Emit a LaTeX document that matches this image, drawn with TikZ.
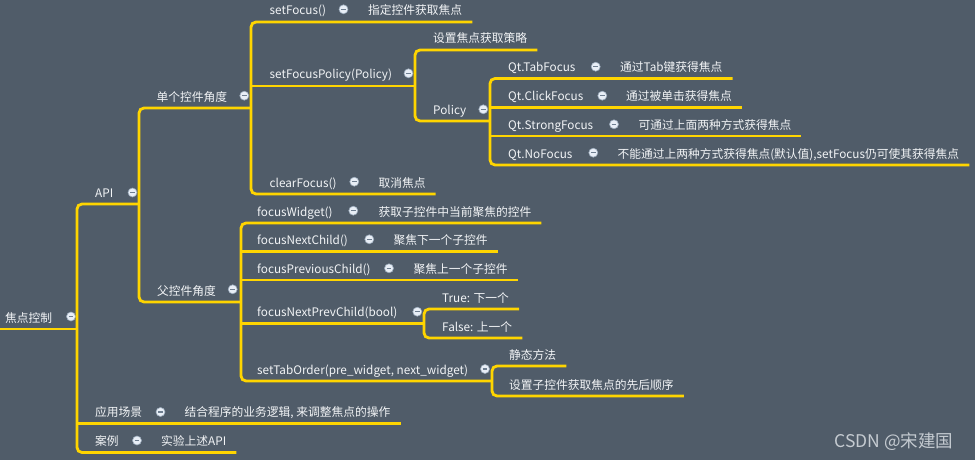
\documentclass[tikz,border=0pt]{standalone}
\usepackage{fontspec}
\setmainfont{Noto Sans CJK SC}
\usepackage{xcolor}
\usetikzlibrary{calc}
\definecolor{slate}{HTML}{505C69}
\definecolor{gold}{HTML}{FFD500}
\definecolor{ink}{HTML}{F2F4F6}
\definecolor{foldfill}{HTML}{E8EEF6}
\definecolor{foldring}{HTML}{9AAABB}
\definecolor{folddash}{HTML}{6E7E90}
\definecolor{credit}{HTML}{C5CBD1}
\tikzset{
  line join=round,
  branch/.style={draw=gold, line width=2.8pt, rounded corners=5pt},
  topic/.style={text=ink, inner sep=0pt, anchor=base west, font=\fontsize{11.75}{13}\selectfont},
  fold/.style={circle, fill=foldfill, draw=foldring, line width=0.6pt, minimum size=9pt, inner sep=0pt,
    path picture={\draw[folddash, line width=1.3pt]
      ([xshift=-2.3pt]path picture bounding box.center) -- ([xshift=2.3pt]path picture bounding box.center);}},
  uline/.style={xshift=10pt, yshift=-7pt}
}

\begin{document}
\begin{tikzpicture}[x=1pt, y=-1pt]
  \fill[slate] (0,0) rectangle (975,460);
  \useasboundingbox (0,0) rectangle (975,460);

  % root
  \node[topic] (root) at (5,322) {焦点控制};
  \node[fold] (root-f) at (71,316.5) {};
  \coordinate (root-s) at (0,329);
  \coordinate (root-j) at (77,329);

  % first level
  \node[topic] (api) at (95,197) {API};
  \node[fold] (api-f) at (132.5,192.5) {};
  \coordinate (api-j) at (139,204);

  \node[topic] (scene) at (95,416.5) {应用场景};
  \node[fold] (scene-f) at (160.5,412) {};
  \node[topic] (scene-d) at (184.5,416.5) {结合程序的业务逻辑, 来调整焦点的操作};
  \coordinate (scene-e) at ([uline]scene-d.base east);

  \node[topic] (case) at (95,445.5) {案例};
  \node[fold] (case-f) at (137,440.5) {};
  \node[topic] (case-d) at (161,445.5) {实验上述API};
  \coordinate (case-e) at ([uline]case-d.base east);

  % API
  \node[topic] (single) at (156.5,101) {单个控件角度};
  \node[fold] (single-f) at (244.3,95.7) {};
  \coordinate (single-j) at (251,108);

  \node[topic] (parent) at (157,295) {父控件角度};
  \node[fold] (parent-f) at (232.7,289.3) {};
  \coordinate (parent-j) at (241,302);

  % single widget
  \node[topic] (setfocus) at (269.5,15) {setFocus()};
  \node[fold] (setfocus-f) at (343.5,9.3) {};
  \node[topic] (setfocus-d) at (368,15) {指定控件获取焦点};
  \coordinate (setfocus-e) at ([uline]setfocus-d.base east);

  \node[topic] (sfp) at (269.5,79) {setFocusPolicy(Policy)};
  \node[fold] (sfp-f) at (408.5,73.3) {};
  \coordinate (sfp-j) at (415,86);

  \node[topic] (strat) at (433,43) {设置焦点获取策略};
  \coordinate (strat-e) at ([uline]strat.base east);

  \node[topic] (policy) at (433,114) {Policy};
  \node[fold] (policy-f) at (483.3,109.3) {};
  \coordinate (policy-j) at (490,121);

  \node[topic] (tab) at (508,71.5) {Qt.TabFocus};
  \node[fold] (tab-f) at (595.7,66.7) {};
  \node[topic] (tab-d) at (620,71.5) {通过Tab键获得焦点};
  \coordinate (tab-e) at ([uline]tab-d.base east);

  \node[topic] (click) at (508,100.5) {Qt.ClickFocus};
  \node[fold] (click-f) at (602.3,95.7) {};
  \node[topic] (click-d) at (626,100.5) {通过被单击获得焦点};
  \coordinate (click-e) at ([uline]click-d.base east);

  \node[topic] (strong) at (508,129) {Qt.StrongFocus};
  \node[fold] (strong-f) at (614,124.3) {};
  \node[topic] (strong-d) at (638.3,129) {可通过上面两种方式获得焦点};
  \coordinate (strong-e) at ([uline]strong-d.base east);

  \node[topic] (nofocus) at (508,158) {Qt.NoFocus};
  \node[fold] (nofocus-f) at (593.3,152.7) {};
  \node[topic] (nofocus-d) at (617.3,158) {不能通过上两种方式获得焦点(默认值),setFocus仍可使其获得焦点};
  \coordinate (nofocus-e) at ([uline]nofocus-d.base east);

  \node[topic] (clear) at (269.5,187) {clearFocus()};
  \node[fold] (clear-f) at (354.3,181.7) {};
  \node[topic] (clear-d) at (378.3,187) {取消焦点};
  \coordinate (clear-e) at ([uline]clear-d.base east);

  % parent widget
  \node[topic] (fw) at (257,216) {focusWidget()};
  \node[fold] (fw-f) at (353.3,210.7) {};
  \node[topic] (fw-d) at (378.3,216) {获取子控件中当前聚焦的控件};
  \coordinate (fw-e) at ([uline]fw-d.base east);

  \node[topic] (fnc) at (257,244.5) {focusNextChild()};
  \node[fold] (fnc-f) at (369.3,239.3) {};
  \node[topic] (fnc-d) at (393.3,244.5) {聚焦下一个子控件};
  \coordinate (fnc-e) at ([uline]fnc-d.base east);

  \node[topic] (fpc) at (257,273) {focusPreviousChild()};
  \node[fold] (fpc-f) at (389,268.3) {};
  \node[topic] (fpc-d) at (413.3,273) {聚焦上一个子控件};
  \coordinate (fpc-e) at ([uline]fpc-d.base east);

  \node[topic] (fnp) at (257,316.5) {focusNextPrevChild(bool)};
  \node[fold] (fnp-f) at (417.3,311.7) {};
  \coordinate (fnp-j) at (424,323.5);

  \node[topic] (true) at (442,302) {True: 下一个};
  \coordinate (true-e) at ([uline]true.base east);
  \node[topic] (false) at (442,331) {False: 上一个};
  \coordinate (false-e) at ([uline]false.base east);

  \node[topic] (sto) at (257,374) {setTabOrder(pre\_widget, next\_widget)};
  \node[fold] (sto-f) at (485,369) {};
  \coordinate (sto-j) at (492,381);

  \node[topic] (static) at (509,359) {静态方法};
  \coordinate (static-e) at ([uline]static.base east);
  \node[topic] (order) at (509,389) {设置子控件获取焦点的先后顺序};
  \coordinate (order-e) at ([uline]order.base east);

  % branches
  \draw[branch] (root-s) -- (root-j);
  \draw[branch] (api-j) -| (root-j) |- (case-e);
  \draw[branch] (root-j |- scene-e) -- (scene-e);

  \draw[branch] (single-j) -| (api-j) |- (parent-j);

  \draw[branch] (setfocus-e) -| (single-j) |- (clear-e);
  \draw[branch] (single-j |- sfp-j) -- (sfp-j);
  \draw[branch] (strat-e) -| (sfp-j) |- (policy-j);
  \draw[branch] (tab-e) -| (policy-j) |- (nofocus-e);
  \foreach \n in {click-e,strong-e}
    \draw[branch] (policy-j |- \n) -- (\n);

  \draw[branch] (fw-e) -| (parent-j) |- (sto-j);
  \foreach \n in {fnc-e,fpc-e,fnp-j}
    \draw[branch] (parent-j |- \n) -- (\n);
  \draw[branch] (true-e) -| (fnp-j) |- (false-e);
  \draw[branch] (static-e) -| (sto-j) |- (order-e);

  \node[text=credit, anchor=base east, font=\fontsize{17.5}{20}\selectfont] (mark) at (957,447.5) {CSDN @宋建国};
\end{tikzpicture}
\end{document}
